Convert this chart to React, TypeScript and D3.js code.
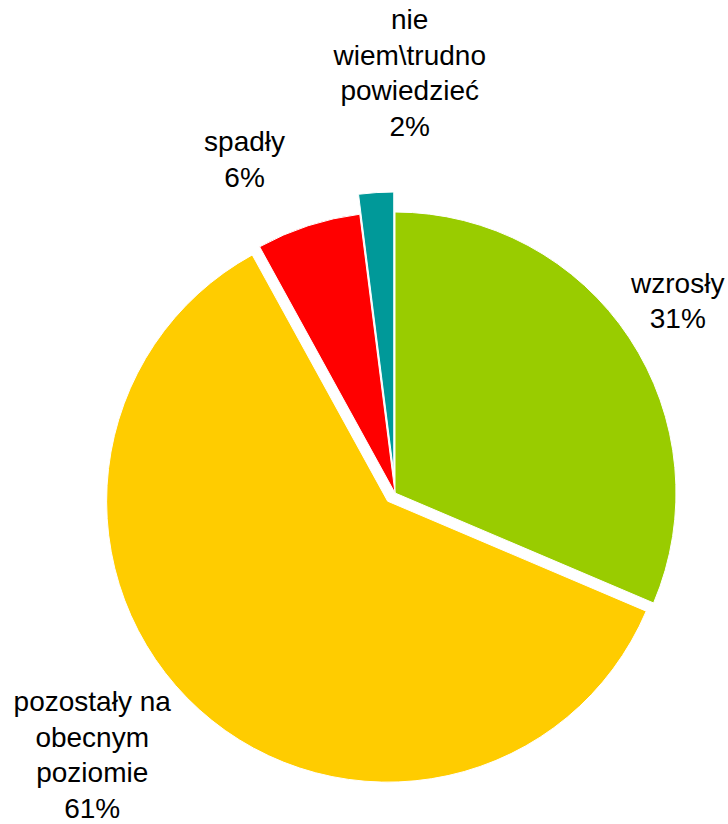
import * as d3 from "d3";

// answers to the survey question (share of respondents, %)
const categories = ["wzrosły", "pozostały na obecnym poziomie", "spadły", "nie wiem\\trudno powiedzieć"];
const values = [31.4, 60.6, 6.0, 2.0];
const percentLabels = ["31%", "61%", "6%", "2%"];
const labelLines = [
  ["wzrosły"],
  ["pozostały na", "obecnym", "poziomie"],
  ["spadły"],
  ["nie", "wiem\\trudno", "powiedzieć"],
];

const colors = ["#99CC00", "#FFCC00", "#FF0000", "#009999"];
// how far each slice is pulled out of the pie
const explode = [0, 11, 0, 20];
// label nudges (Excel-like manual placement)
const labelNudge: [number, number][] = [
  [-10, 11],
  [-60, 3],
  [-42, 10],
  [38, -40],
];

const width = 728;
const height = 824;
const cx = 395;
const cy = 493;
const radius = 281;
const labelRadius = radius + 70;
const lineHeight = 35.5;

export default function App() {
  const pie = d3
    .pie<number>()
    .sort(null)
    .value((d) => d);
  const arcs = pie(values);

  const arc = d3
    .arc<d3.PieArcDatum<number>>()
    .innerRadius(0)
    .outerRadius(radius);

  const labelArc = d3
    .arc<d3.PieArcDatum<number>>()
    .innerRadius(labelRadius)
    .outerRadius(labelRadius);

  return (
    <svg
      width={width}
      height={height}
      style={{ position: "absolute", left: 0, top: 0 }}
      fontFamily="'Liberation Sans', Arial, sans-serif"
    >
      <g transform={`translate(${cx},${cy})`}>
        {arcs.map((d, i) => {
          const mid = (d.startAngle + d.endAngle) / 2;
          const ox = Math.sin(mid) * explode[i];
          const oy = -Math.cos(mid) * explode[i];
          return (
            <path
              key={categories[i]}
              d={arc(d) ?? ""}
              transform={`translate(${ox},${oy})`}
              fill={colors[i]}
              stroke="#ffffff"
              strokeWidth={1}
            />
          );
        })}
        {arcs.map((d, i) => {
          const mid = (d.startAngle + d.endAngle) / 2;
          const ox = Math.sin(mid) * explode[i];
          const oy = -Math.cos(mid) * explode[i];
          const [lx, ly] = labelArc.centroid(d);
          const x = lx + ox + labelNudge[i][0];
          const y = ly + oy + labelNudge[i][1];
          const lines = [...labelLines[i], percentLabels[i]];
          return (
            <text
              key={"label-" + categories[i]}
              textAnchor="middle"
              fontSize={28}
              fill="#000000"
            >
              {lines.map((line, j) => (
                <tspan
                  key={j}
                  x={x}
                  y={y + (j - (lines.length - 1) / 2) * lineHeight}
                >
                  {line}
                </tspan>
              ))}
            </text>
          );
        })}
      </g>
    </svg>
  );
}
